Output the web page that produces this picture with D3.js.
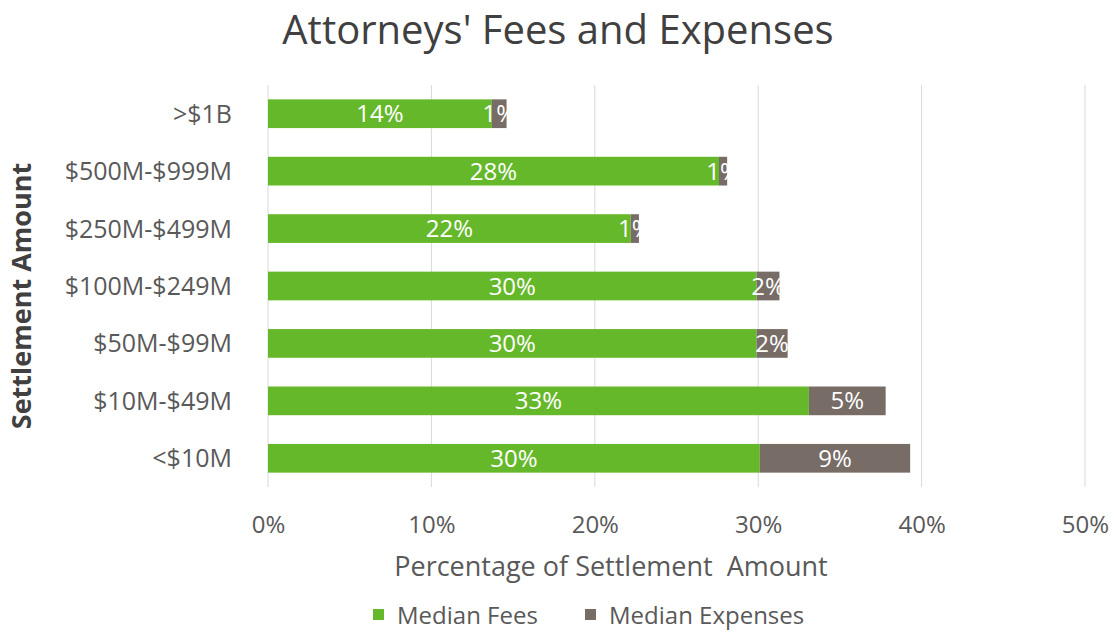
<!DOCTYPE html>
<html>
<head>
<meta charset="utf-8">
<script src="https://cdn.jsdelivr.net/npm/d3@7"></script>
<style>
  body { margin: 0; background: #fff; }
  svg text { font-family: "Open Sans", Lato, sans-serif; }
</style>
</head>
<body>
<div id="chart"></div>
<script>
// Chart data
const categories = [">$1B", "$500M-$999M", "$250M-$499M", "$100M-$249M", "$50M-$99M", "$10M-$49M", "<$10M"];
const medianFees = [13.7, 27.6, 22.2, 29.9, 29.9, 33.1, 30.1];
const medianExpenses = [0.9, 0.5, 0.5, 1.4, 1.9, 4.7, 9.2];
const feeLabels = ["14%", "28%", "22%", "30%", "30%", "33%", "30%"];
const expenseLabels = ["1%", "1%", "1%", "2%", "2%", "5%", "9%"];
const xTicks = [0, 10, 20, 30, 40, 50];
const seriesNames = ["Median Fees", "Median Expenses"];

const W = 1115, H = 633;
const margin = { top: 85, right: 30, bottom: 146, left: 268 };
const width = 1085 - margin.left;
const height = H - margin.top - margin.bottom;

const colors = { fees: "#66b82b", expenses: "#776c66" };

const svg = d3.select("#chart").append("svg")
    .attr("width", W)
    .attr("height", H);

// Title
svg.append("text")
    .attr("x", 558)
    .attr("y", 44)
    .attr("text-anchor", "middle")
    .attr("fill", "#404040")
    .style("font-size", "40px")
    .text("Attorneys' Fees and Expenses");

const g = svg.append("g")
    .attr("transform", `translate(${margin.left}, ${margin.top})`);

const x = d3.scaleLinear().domain([0, 50]).range([0, width]);
const y = d3.scaleBand().domain(categories).range([0, height]).paddingInner(0.5).paddingOuter(0.25);

// Gridlines
g.append("g")
    .selectAll("line")
    .data(xTicks)
    .join("line")
    .attr("x1", d => x(d)).attr("x2", d => x(d))
    .attr("y1", 0).attr("y2", height)
    .attr("stroke", "#d9d9d9")
    .attr("stroke-width", 1);

// X axis labels
const xAxis = g.append("g")
    .attr("transform", `translate(0, ${height})`)
    .call(d3.axisBottom(x).tickValues(xTicks).tickFormat(d => d + "%").tickSize(0));
xAxis.select(".domain").remove();
xAxis.selectAll("text")
    .attr("y", 533 - margin.top - height)
    .attr("dy", null)
    .attr("fill", "#595959")
    .style("font-size", "24px")
    .style("font-family", "'Open Sans', sans-serif");

// Y axis labels
const yAxis = g.append("g")
    .call(d3.axisLeft(y).tickSize(0).tickPadding(36));
yAxis.select(".domain").remove();
yAxis.selectAll("text")
    .attr("dy", "0.36em")
    .attr("fill", "#595959")
    .style("font-size", "25px")
    .style("font-family", "'Open Sans', sans-serif");

const rows = categories.map((c, i) => ({
    cat: c, fees: medianFees[i], exp: medianExpenses[i],
    feeLabel: feeLabels[i], expLabel: expenseLabels[i]
}));

// Fees bars
g.selectAll(".fee")
    .data(rows)
    .join("rect")
    .attr("class", "fee")
    .attr("x", x(0))
    .attr("y", d => y(d.cat))
    .attr("width", d => x(d.fees) - x(0))
    .attr("height", y.bandwidth())
    .attr("fill", colors.fees);

// Expenses bars
g.selectAll(".exp")
    .data(rows)
    .join("rect")
    .attr("class", "exp")
    .attr("x", d => x(d.fees))
    .attr("y", d => y(d.cat))
    .attr("width", d => x(d.fees + d.exp) - x(d.fees))
    .attr("height", y.bandwidth())
    .attr("fill", colors.expenses);

// Data labels
g.selectAll(".fee-label")
    .data(rows)
    .join("text")
    .attr("x", d => x(d.fees / 2))
    .attr("y", d => y(d.cat) + y.bandwidth() / 2)
    .attr("dy", "0.36em")
    .attr("text-anchor", "middle")
    .attr("fill", "#fff")
    .style("font-size", "24px")
    .text(d => d.feeLabel);

g.selectAll(".exp-label")
    .data(rows)
    .join("text")
    .attr("x", d => x(d.fees + d.exp / 2))
    .attr("y", d => y(d.cat) + y.bandwidth() / 2)
    .attr("dy", "0.36em")
    .attr("text-anchor", "middle")
    .attr("fill", "#fff")
    .style("font-size", "24px")
    .text(d => d.expLabel);

// Axis titles
svg.append("text")
    .attr("x", 611)
    .attr("y", 576)
    .attr("text-anchor", "middle")
    .attr("fill", "#595959")
    .style("font-size", "27px")
    .text("Percentage of Settlement\u00a0 Amount");

svg.append("text")
    .attr("transform", `translate(31, 296) rotate(-90)`)
    .attr("text-anchor", "middle")
    .attr("fill", "#404040")
    .style("font-size", "27px")
    .style("font-weight", "bold")
    .text("Settlement Amount");

// Legend
const legend = svg.append("g").attr("transform", "translate(373, 624)");
const legendX = [0, 212];
const legendColors = [colors.fees, colors.expenses];
seriesNames.forEach((name, i) => {
    const item = legend.append("g").attr("transform", `translate(${legendX[i]}, 0)`);
    item.append("rect")
        .attr("x", 0).attr("y", -15)
        .attr("width", 11).attr("height", 11)
        .attr("fill", legendColors[i]);
    item.append("text")
        .attr("x", 24)
        .attr("y", 0)
        .attr("fill", "#595959")
        .style("font-size", "24px")
        .text(name);
});
</script>
</body>
</html>
